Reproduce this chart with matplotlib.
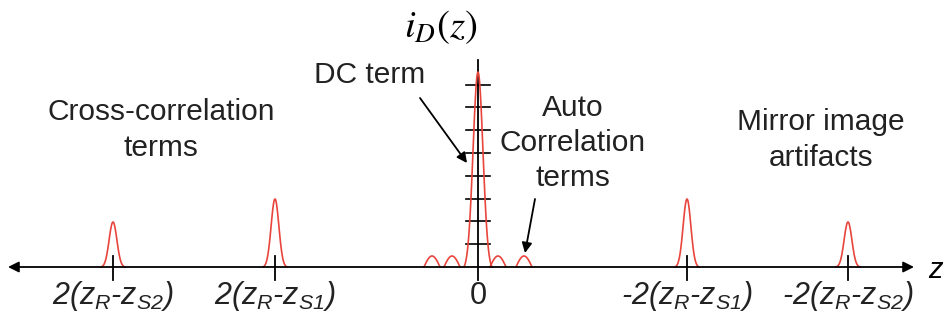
import numpy as np
import matplotlib.pyplot as plt

plt.rcParams['font.family'] = ['Liberation Sans', 'DejaVu Sans']
plt.rcParams['mathtext.fontset'] = 'custom'
plt.rcParams['mathtext.it'] = 'Liberation Sans:italic'
plt.rcParams['mathtext.rm'] = 'Liberation Sans:italic'

# ========== data (z position, peak height) ==========
peak_z = [-365, -203, 209, 370]          # cross-correlation + mirror peaks
peak_h = [45, 68, 68, 45]
peak_halfwidth = 12

dc_z, dc_h, dc_halfwidth = 0, 195, 14     # DC term
auto_z = [-46, -26, 20, 46]              # auto-correlation bumps
auto_h = [11, 11, 11, 11]
auto_width = 16

tick_labels = [r'$2(z_R$-$z_{S2})$', r'$2(z_R$-$z_{S1})$', '0',
               r'-$2(z_R$-$z_{S1})$', r'-$2(z_R$-$z_{S2})$']
tick_pos = [-365, -203, 0, 209, 370]
ytick_step = 22.8
n_yticks = 8

red = '#e8453c'


def bell(z0, h, hw, s):
    x = np.linspace(z0 - hw, z0 + hw, 80)
    base = np.exp(-(hw / s) ** 2)
    y = h * (np.exp(-((x - z0) / s) ** 2) - base) / (1 - base)
    return x, y


fig = plt.figure(figsize=(9.52, 3.23), dpi=100)
ax = fig.add_axes([0, 0, 1, 1])
ax.set_xlim(-478, 474)
ax.set_ylim(-56, 267)
ax.axis('off')

# 横轴 (双箭头)
ax.annotate('', xy=(-470, 0), xytext=(436, 0),
            arrowprops=dict(arrowstyle='<|-|>', color='black', lw=1.3,
                            mutation_scale=16, shrinkA=0, shrinkB=0))
ax.text(450, -3, r'$z$', fontsize=21, va='center', ha='left')

# 纵轴 + 刻度
ax.plot([0, 0], [-13, 207], color='black', lw=1.3)
for k in range(1, n_yticks + 1):
    ax.plot([-12, 12], [k * ytick_step] * 2, color='black', lw=1.2)
ax.text(-37, 240, r'$i_D(z)$', fontsize=28, ha='center', va='center',
        math_fontfamily='stix')

# 峰
for z0, h in zip(peak_z, peak_h):
    x, y = bell(z0, h, peak_halfwidth, 5.5)
    ax.plot(x, y, color=red, lw=1.2)
x, y = bell(dc_z, dc_h, dc_halfwidth, 7)
ax.plot(x, y, color=red, lw=1.2)
for z0, h in zip(auto_z, auto_h):
    x = np.linspace(z0 - auto_width / 2, z0 + auto_width / 2, 40)
    ax.plot(x, h * np.sin(np.pi * (x - z0 + auto_width / 2) / auto_width),
            color=red, lw=1.2)

# 横轴刻度与标签
for p, lab in zip(tick_pos, tick_labels):
    if p != 0:
        ax.plot([p, p], [-13, 11], color='black', lw=1.3)
    ax.text(p, -29, lab, fontsize=22, ha='center', va='center',
            color='#222222', fontstyle='normal' if p == 0 else 'italic')

# 注释文字
txt = dict(fontsize=21.5, ha='center', va='center', color='#222222',
           linespacing=1.32)
ax.text(-317, 137, 'Cross-correlation\nterms', **txt)
ax.text(343, 127, 'Mirror image\nartifacts', **txt)
ax.text(95, 124, 'Auto\nCorrelation\nterms', **txt)
ax.text(-108, 192, 'DC term', **txt)

ax.annotate('', xy=(-11, 104), xytext=(-58, 169),
            arrowprops=dict(arrowstyle='-|>', color='black', lw=1.3,
                            mutation_scale=15, shrinkA=0, shrinkB=0))
ax.annotate('', xy=(47, 14), xytext=(57, 68),
            arrowprops=dict(arrowstyle='-|>', color='black', lw=1.3,
                            mutation_scale=15, shrinkA=0, shrinkB=0))

fig.savefig('out.png', dpi=100)
